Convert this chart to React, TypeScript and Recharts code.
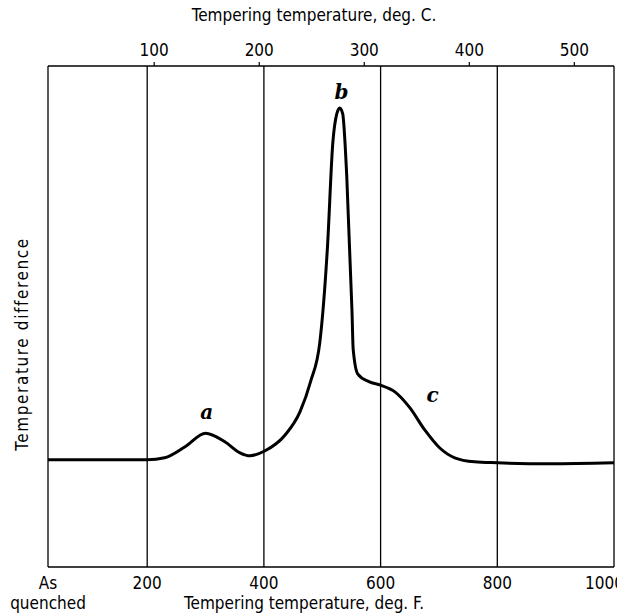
import React from 'react';
import {
  LineChart, Line, XAxis, YAxis, CartesianGrid, ReferenceDot,
} from 'recharts';

// tempering temperature (deg F) and the measured temperature difference (arbitrary units)
const tempF = [
  30, 200, 230, 265, 300, 333, 359, 376, 402, 436, 462, 480, 496, 509, 518, 525,
  530, 535, 542, 551, 553, 561, 580, 600, 624, 650, 676, 701, 727, 761, 800, 890, 1000,
];
const diff = [
  21.4, 21.4, 21.8, 24.0, 26.7, 25.0, 22.8, 22.2, 23.2, 26.3, 31.0, 37.0, 45.0, 64.0, 84.5, 90.5,
  91.6, 90.5, 78.0, 51.0, 43.5, 38.5, 37.0, 36.3, 35.0, 31.8, 27.3, 23.8, 21.8, 21.0, 20.8, 20.6, 20.8,
];

const ticksF = [30, 200, 400, 600, 800, 1000];
const ticksC = [100, 200, 300, 400, 500];

// peak labels: [letter, deg F, value]
const peaks: [string, number, number][] = [
  ['a', 302, 30.9],
  ['b', 533, 94.8],
  ['c', 689, 34.3],
];

const FONT = '"DejaVu Sans Condensed", "DejaVu Sans", sans-serif';
const toC = (f: number) => (f - 32) / 1.8;

const data = tempF.map((f, i) => ({ f, c: toC(f), diff: diff[i] }));

function BottomTick({ x, y, payload }: any) {
  const v = payload.value;
  if (v === 30) {
    return (
      <text x={x} y={y} textAnchor="middle" fontFamily={FONT} fontSize={17} fill="#000">
        <tspan x={x} dy={14}>As</tspan>
        <tspan x={x} dy={20}>quenched</tspan>
      </text>
    );
  }
  return (
    <text x={v === 1000 ? x - 29 : x} y={y} dy={14} textAnchor={v === 1000 ? 'start' : 'middle'}
      fontFamily={FONT} fontSize={17} fill="#000">
      {v}
    </text>
  );
}

function PeakLabel({ viewBox, value }: any) {
  const { cx, cy, x, y } = viewBox;
  return (
    <text x={cx ?? x} y={cy ?? y} dy={7} textAnchor="middle" fontFamily="DejaVu Serif, serif"
      fontStyle="italic" fontWeight="bold" fontSize={20} fill="#000">
      {value}
    </text>
  );
}

export default function App() {
  return (
    <div style={{ position: 'absolute', left: 0, top: 0, background: '#fff' }}>
      <LineChart width={617} height={616} data={data}
        margin={{ top: 36, right: 3, bottom: 9, left: 0 }}>
        <CartesianGrid horizontal={false} stroke="#000" strokeWidth={1.3} strokeDasharray="" />
        <XAxis
          dataKey="f"
          type="number"
          domain={[30, 1000]}
          ticks={ticksF}
          height={40}
          axisLine={{ stroke: '#000', strokeWidth: 1.5 }}
          tickLine={false}
          tick={<BottomTick />}
          interval={0}
          label={{
            content: () => (
              <text x={304} y={609} textAnchor="middle" fontFamily={FONT} fontSize={17} fill="#000">
                Tempering temperature, deg. F.
              </text>
            ),
          }}
        />
        <XAxis
          xAxisId="c"
          dataKey="c"
          orientation="top"
          type="number"
          domain={[toC(30), toC(1000)]}
          ticks={ticksC}
          allowDataOverflow
          height={30}
          axisLine={{ stroke: '#000', strokeWidth: 1.5 }}
          tickLine={{ stroke: '#000', strokeWidth: 1.2 }}
          tickSize={4}
          tickMargin={6}
          interval={0}
          tick={{ fontFamily: FONT, fontSize: 17, fill: '#000' }}
          label={{
            content: () => (
              <text x={314} y={21} textAnchor="middle" fontFamily={FONT} fontSize={17} fill="#000">
                Tempering temperature, deg. C.
              </text>
            ),
          }}
        />
        <YAxis
          domain={[0, 100]}
          width={48}
          tick={false}
          tickLine={false}
          axisLine={false}
          label={{
            content: () => (
              <text x={0} y={0} transform="translate(28 344) rotate(-90)" textAnchor="middle"
                fontFamily={FONT} fontSize={17} letterSpacing={1.6} fill="#000">
                Temperature difference
              </text>
            ),
          }}
        />
        <Line
          dataKey="diff"
          type="monotone"
          stroke="#000"
          strokeWidth={3}
          dot={false}
          activeDot={false}
          isAnimationActive={false}
        />
        {peaks.map(([name, f, v]) => (
          <ReferenceDot key={name} x={f} y={v} r={0} fill="none" stroke="none"
            label={<PeakLabel value={name} />} />
        ))}
      </LineChart>
    </div>
  );
}
